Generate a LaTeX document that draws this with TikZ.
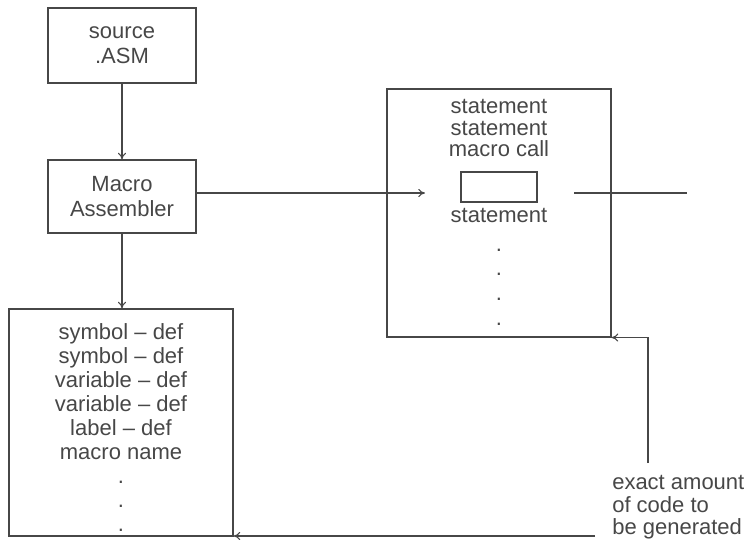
\documentclass[tikz,border=0pt]{standalone}
\usepackage{fontspec}
\setmainfont{Liberation Sans}
\usetikzlibrary{arrows.meta}

\definecolor{ink}{HTML}{474747}
\tikzset{
  box/.style={draw=ink,line width=0.8pt,inner sep=0pt,align=center,text=ink},
  line/.style={text=ink,inner sep=0pt,anchor=base},
  wire/.style={draw=ink,line width=0.8pt},
  flow/.style={wire,-{To[length=5pt,width=6pt]}}
}

\begin{document}
\begin{tikzpicture}[x=0.75pt,y=-0.75pt,font=\fontsize{16.5}{19}\selectfont]
\useasboundingbox (0,0) rectangle (753,544);

% left column
\node[box,minimum width=111pt,minimum height=56.25pt] (src) at (122,45.5) {source\\.ASM};
\node[box,minimum width=111pt,minimum height=54.75pt] (asm) at (122,196.5) {Macro\\Assembler};
\node[box,minimum width=168pt,minimum height=170.25pt] (sym) at (121,422.5) {};
\foreach \t [count=\i] in {symbol -- def, symbol -- def, variable -- def,
    variable -- def, label -- def, macro name, ., ., .}
  \node[line] (sym\i) at (121,315+24*\i) {\t};

% expanded source
\node[box,minimum width=168pt,minimum height=186pt] (stm) at (499,213) {};
\foreach \t/\y [count=\i] in {statement/113, statement/135, macro call/156,
    statement/222, ./251, ./275, ./300, ./325}
  \node[line] (stm\i) at (499,\y) {\t};
\node[box,minimum width=57pt,minimum height=22.5pt] (slot) at (499,187) {};

\foreach \t/\y [count=\i] in {exact amount/489, of code to/512, be generated/534}
  \node[line,anchor=base west] (note\i) at (612,\y) {\t};

% connectors
\coordinate (callin) at (425,193);
\coordinate (callout) at (574,193);
\coordinate (callend) at (687,193);
\coordinate (codeup) at (648,463);
\coordinate (codein) at (595,536);

\draw[flow] (src) -- (asm);
\draw[flow] (asm.south) -- (asm.south |- sym.north);
\draw[flow] (asm.east |- callin) -- (callin);
\draw[wire] (callout) -- (callend);
\draw[flow] (codeup) -- (codeup |- stm.south) -- (stm.south east);
\draw[flow] (codein) -- (codein -| sym.east);
\end{tikzpicture}
\end{document}
